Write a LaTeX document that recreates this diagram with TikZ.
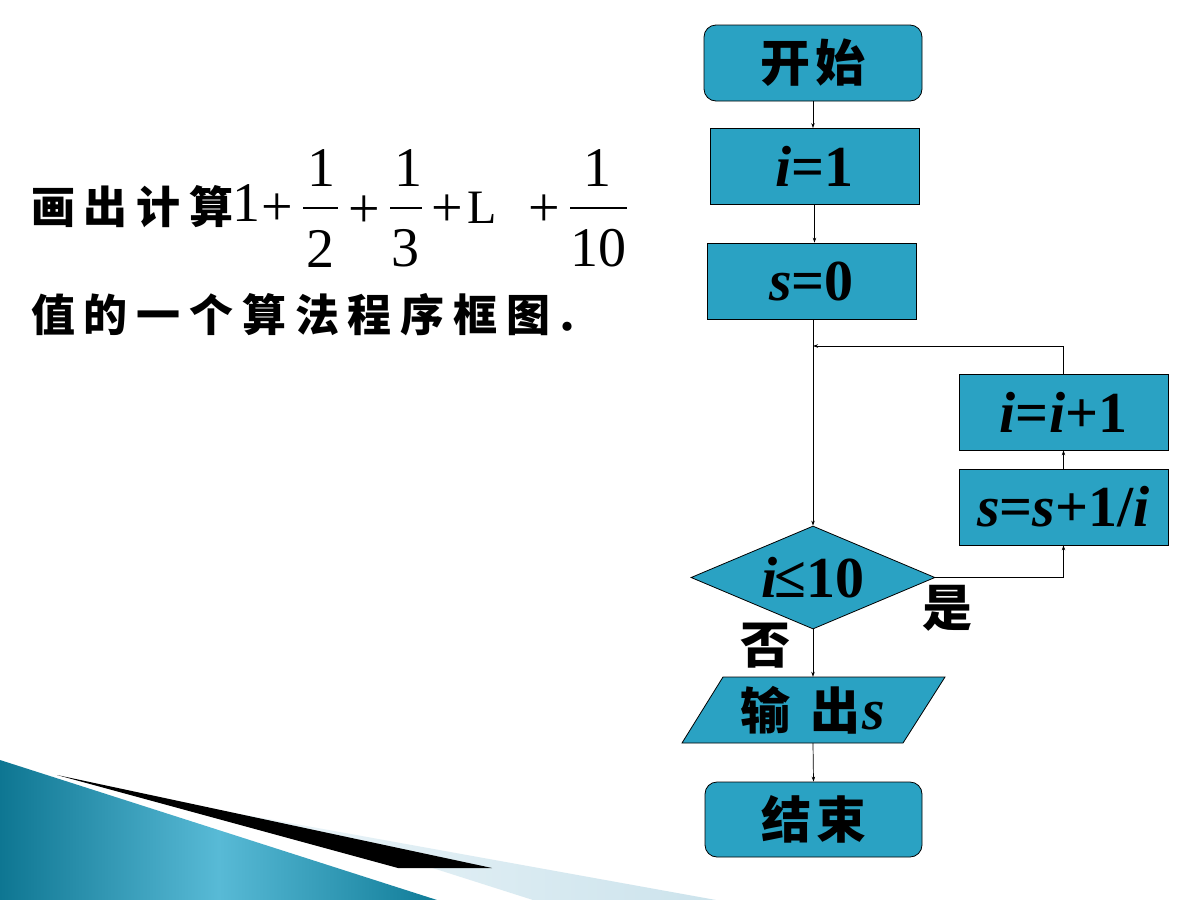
\documentclass[tikz,border=0pt]{standalone}
\usepackage{fontspec}
\usetikzlibrary{shapes.geometric,arrows.meta}
\newfontfamily\cjkA{Noto Sans CJK SC}[LetterSpace=20]
\newfontfamily\cjkB{Noto Sans CJK SC}[LetterSpace=10]
\newfontfamily\cjkC{Noto Sans CJK SC}
\newfontfamily\tnr{Liberation Serif}
\definecolor{boxteal}{RGB}{42,162,195}
\definecolor{tealdark}{RGB}{14,118,146}
\definecolor{teallight}{RGB}{88,186,214}
\definecolor{tealdarkb}{RGB}{16,124,152}
\definecolor{paleA}{RGB}{236,245,249}
\definecolor{paleB}{RGB}{204,227,236}
\newcommand\cjkbig{\cjkB\bfseries\fontsize{50}{54}\selectfont}
\newcommand\cjklbl{\cjkC\bfseries\fontsize{50}{54}\selectfont}
\newcommand\cjkleft{\cjkA\bfseries\fontsize{44}{48}\selectfont}
\newcommand\mtb{\tnr\bfseries\fontsize{58}{62}\selectfont}
\newcommand\mtr{\tnr\fontsize{56}{60}\selectfont}
\newcommand\iv[1]{\textit{#1}}
\begin{document}
\begin{tikzpicture}[x=1pt,y=-1pt,
  box/.style={draw=black, line width=0.8pt, fill=boxteal, minimum width=209pt,
    minimum height=76pt, inner sep=0pt},
  term/.style={box, rounded corners=12pt, minimum width=218pt},
  arr/.style={-{Stealth[length=5pt,width=3.5pt]}, line width=0.7pt},
  plain/.style={inner sep=0pt},
  fbar/.style={fill=black, inner sep=0pt, minimum height=1.8pt}]
\useasboundingbox (0,0) rectangle (1200,900);
\fill[white] (0,0) rectangle (1200,900);
% background decoration
\shade[left color=tealdark, right color=tealdarkb, middle color=teallight]
  (0,760) -- (437,900) -- (0,900) -- cycle;
\shade[left color=paleA, right color=paleB]
  (240,814) -- (716,900) -- (533,900) -- (420,864) -- cycle;
\fill[black] (57,775) -- (492,868) -- (398,868) -- cycle;
% left text
\node[plain, anchor=west] (t1) at (31,207) {\cjkleft 画出计算};
\node[plain] (one) at (246,203.5) {\mtr 1};
\node[plain] (p1) at (277,210) {\mtr +};
\node[plain] (n2) at (321.5,168.5) {\mtr 1};
\node[fbar, minimum width=35pt] (b2) at (320.5,208) {};
\node[plain] (d2) at (320.5,248.5) {\mtr 2};
\node[plain] (p2) at (364,212) {\mtr +};
\node[plain] (n3) at (408.5,168.5) {\mtr 1};
\node[fbar, minimum width=32pt] (b3) at (406,208) {};
\node[plain] (d3) at (405,248.5) {\mtr 3};
\node[plain] (p3) at (447.5,211) {\mtr +};
\node[plain] (ell) at (482,207.5) {\tnr\fontsize{48}{52}\selectfont L};
\node[plain] (p4) at (544,211) {\mtr +};
\node[plain] (n10) at (597.5,168.5) {\mtr 1};
\node[fbar, minimum width=57pt] (b10) at (598.5,208) {};
\node[plain] (d10) at (598.5,248.5) {\mtr 10};
\node[plain, anchor=west] (t2) at (31,315) {\cjkleft 值的一个算法程序框图};
\node[plain] (dot) at (567.5,327) {\tnr\bfseries\fontsize{56}{60}\selectfont .};
% flowchart
\node[term] (start) at (813,63) {\cjkbig 开始};
\node[box] (i1) at (814.5,166.5) {\mtb\iv{i}=1};
\node[box] (s0) at (811.5,281) {\mtb\iv{s}=0};
\node[box] (ibox) at (1063.5,412) {\mtb\iv{i}=\iv{i}+1};
\node[box] (sbox) at (1063.5,507) {\mtb\iv{s}=\iv{s}+1/\iv{i}};
\node[diamond, aspect=2.37, draw=black, line width=0.8pt, fill=boxteal, inner sep=0pt,
  minimum width=244pt, minimum height=103pt] (dia) at (813,577.5)
  {\mtb\iv{i}\hspace{-3pt}≤10};
\filldraw[fill=boxteal, draw=black, line width=0.8pt]
  (723,677) -- (945,677) -- (903,743) -- (682,743) -- cycle;
\node[plain, minimum width=180pt, minimum height=66pt] (out) at (813,710)
  {\cjklbl 输\hspace{20pt}出\hspace{2pt}{\mtb\iv{s}}};
\node[term, minimum width=217pt, minimum height=75pt] (stop) at (813.5,819.5) {\cjkbig 结束};
\node[plain] (yes) at (947,608) {\cjklbl 是};
\node[plain] (no) at (765,646) {\cjklbl 否};
\coordinate (m) at (813,346);
% connectors
\draw[arr] (start.south) -- (start.south |- i1.north);
\draw[arr] (i1.south) -- (i1.south |- s0.north);
\draw[arr] (dia.north |- s0.south) -- (dia.north);
\draw[arr] (ibox.north) |- (m);
\draw[arr] (sbox.north) -- (ibox.south);
\draw[arr] (dia.east) -| (sbox.south);
\draw[arr] (dia.south) -- (out.north);
\draw[arr] (out.south) -- (stop.north);
\end{tikzpicture}
\end{document}
